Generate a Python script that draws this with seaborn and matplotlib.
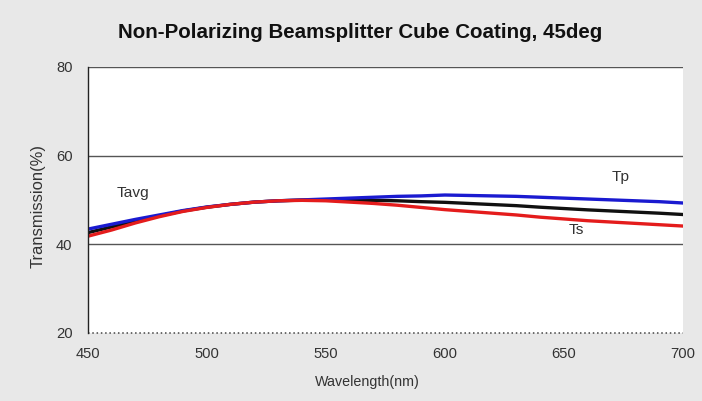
import matplotlib
matplotlib.use("Agg")
import matplotlib.pyplot as plt
from matplotlib import font_manager
import seaborn as sns
import pandas as pd

# Wavelength grid (nm) and transmission curves (%)
wavelength = [450, 460, 470, 480, 490, 500, 510, 520, 530, 540, 550, 560, 570,
              580, 590, 600, 610, 620, 630, 640, 650, 660, 670, 680, 690, 700]
tp = [43.4, 44.5, 45.6, 46.6, 47.6, 48.4, 49.0, 49.5, 49.8, 50.0, 50.2, 50.4, 50.6,
      50.8, 50.9, 51.1, 51.0, 50.9, 50.8, 50.6, 50.4, 50.2, 50.0, 49.8, 49.6, 49.3]
ts = [41.8, 43.2, 44.8, 46.2, 47.4, 48.3, 49.0, 49.5, 49.8, 49.9, 49.8, 49.5, 49.2,
      48.8, 48.3, 47.8, 47.4, 47.0, 46.6, 46.1, 45.7, 45.3, 45.0, 44.7, 44.4, 44.1]
tavg = [42.6, 43.9, 45.2, 46.4, 47.5, 48.35, 49.0, 49.5, 49.8, 49.95, 50.0, 49.95, 49.9,
        49.8, 49.6, 49.45, 49.2, 48.95, 48.7, 48.35, 48.05, 47.75, 47.5, 47.25, 47.0, 46.7]

y_ticks = [20, 40, 60, 80]
x_ticks = [450, 500, 550, 600, 650, 700]

df = pd.DataFrame({
    "Wavelength": wavelength * 3,
    "T": tavg + tp + ts,
    "Curve": ["Tavg"] * len(wavelength) + ["Tp"] * len(wavelength) + ["Ts"] * len(wavelength),
})

sns.set_style("white")
plt.rcParams["font.family"] = ["Liberation Sans", "DejaVu Sans"]

# condensed face for axis text, if available
names = {f.name for f in font_manager.fontManager.ttflist}
narrow = "Liberation Sans Narrow" if "Liberation Sans Narrow" in names else "Liberation Sans"
scale = 1.0 if narrow == "Liberation Sans Narrow" else 0.82
narrow_fam = [narrow, "DejaVu Sans"]

fig = plt.figure(figsize=(7.02, 4.01), dpi=100, facecolor="#e8e8e8")
ax = fig.add_axes([0.125, 0.170, 0.848, 0.663])
ax.set_facecolor("white")

palette = {"Tavg": "#101010", "Tp": "#1a1ad0", "Ts": "#e41c1c"}
sns.lineplot(data=df, x="Wavelength", y="T", hue="Curve", palette=palette,
             hue_order=["Tavg", "Tp", "Ts"], linewidth=2.4, legend=False, ax=ax)

ax.set_xlim(450, 700)
ax.set_ylim(20, 80)
ax.set_xticks(x_ticks)
ax.set_yticks(y_ticks)
ax.tick_params(axis="both", length=0, colors="#333333")
ax.tick_params(axis="y", pad=11)
ax.tick_params(axis="x", pad=10)
for lbl in ax.get_xticklabels() + ax.get_yticklabels():
    lbl.set_family(narrow_fam)
    lbl.set_fontsize(13 * scale)

# horizontal rules at 40/60/80, dotted baseline at 20
for v in y_ticks[1:]:
    ax.axhline(v, color="#555555", linewidth=1.0, zorder=1)
ax.axhline(20, color="#444444", linewidth=1.1, linestyle=(0, (1.0, 1.8)),
           zorder=1, clip_on=False)

for s in ["top", "right", "bottom"]:
    ax.spines[s].set_visible(False)
ax.spines["left"].set_color("#222222")
ax.spines["left"].set_linewidth(1.0)

ax.set_xlabel("Wavelength(nm)", fontsize=12.5 * scale, family=narrow_fam, color="#333333")
ax.set_ylabel("Transmission(%)", fontsize=14.5 * scale, family=narrow_fam, color="#333333")
ax.xaxis.set_label_coords(0.47, -0.16)
ax.yaxis.set_label_coords(-0.071, 0.477)

lbl_kw = dict(fontsize=13.5 * scale, family=narrow_fam, color="#333333", va="center")
ax.text(462, 51.6, "Tavg", **lbl_kw)
ax.text(670, 55.2, "Tp", **lbl_kw)
ax.text(652, 43.2, "Ts", **lbl_kw)

fig.text(0.513, 0.918, "Non-Polarizing Beamsplitter Cube Coating, 45deg",
         ha="center", va="center", fontsize=14.8, fontweight="bold", color="#111111")

fig.savefig("out.png", dpi=100, facecolor=fig.get_facecolor())
